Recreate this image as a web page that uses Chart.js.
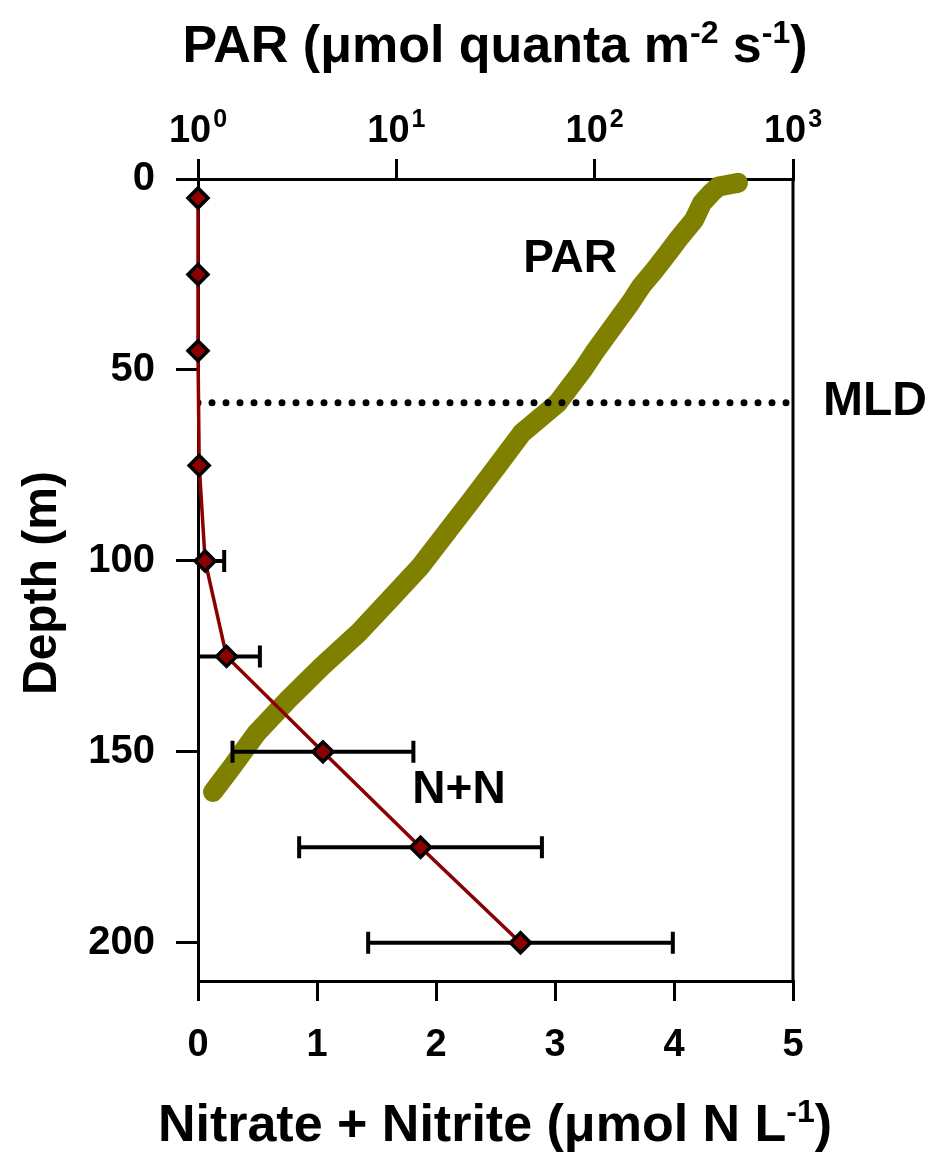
<!DOCTYPE html>
<html>
<head>
<meta charset="utf-8">
<script src="https://cdn.jsdelivr.net/npm/chart.js@4"></script>
<style>
  html, body { margin: 0; padding: 0; background: #fff; }
</style>
</head>
<body>
<canvas id="wykres" width="935" height="1158"></canvas>
<script>
// Nitrate + nitrite profile (bottom axis), with +/- error
const nnDepth = [5, 25, 45, 75, 100, 125, 150, 175, 200];
const nnValue = [0.0, 0.0, 0.0, 0.01, 0.06, 0.24, 1.05, 1.87, 2.71];
const nnErr = [0, 0, 0, 0, 0.16, 0.28, 0.76, 1.02, 1.28];

// PAR profile (top log axis)
const parDepth = [1.0, 1.5, 2.0, 3.5, 6.3, 10.7, 15.2, 19.4, 23.8, 28.2, 32.5, 36.9, 41.2, 45.6, 50, 54.4, 58.7, 66.5, 75.4, 84, 92.7, 101.5, 110, 119, 127.7, 136.4, 145, 154, 160.5];
const parValue = [528, 470, 420, 390, 348, 317, 269, 234, 201, 171, 151, 131, 114, 99, 87, 75, 65, 43, 32, 24, 17.8, 13.2, 9.3, 6.4, 4.2, 2.84, 1.98, 1.48, 1.19];

// mixed layer depth
const mldDepth = 58.6;

const depthTicks = [0, 50, 100, 150, 200];
const nnTicks = [0, 1, 2, 3, 4, 5];
const parTicks = [1, 10, 100, 1000];
const parTickExp = ['0', '1', '2', '3'];

const FONT = "'Liberation Sans', Arial, sans-serif";

// text with superscripts, parts = [[text, isSup], ...]
function drawRich(ctx, parts, x, y, size, align) {
    const supSize = Math.round(size * 0.62);
    let total = 0;
    parts.forEach(p => {
        ctx.font = 'bold ' + (p[1] ? supSize : size) + 'px ' + FONT;
        total += ctx.measureText(p[0]).width;
    });
    let cx = align === 'center' ? x - total / 2 : x;
    parts.forEach(p => {
        ctx.font = 'bold ' + (p[1] ? supSize : size) + 'px ' + FONT;
        ctx.fillText(p[0], cx, p[1] ? y - size * 0.36 : y);
        cx += ctx.measureText(p[0]).width;
    });
}

const extras = {
    id: 'extras',
    beforeDraw(chart) {
        const ctx = chart.ctx;
        ctx.save();
        ctx.fillStyle = '#fff';
        ctx.fillRect(0, 0, chart.width, chart.height);
        ctx.restore();
    },
    afterDatasetDraw(chart, args) {
        if (args.index !== 2) return;
        // error bars, drawn over PAR and under the N+N line
        const ctx = chart.ctx;
        const xs = chart.scales.x, ys = chart.scales.y;
        const area = chart.chartArea;
        ctx.save();
        ctx.strokeStyle = '#000';
        ctx.lineWidth = 4;
        for (let i = 0; i < nnDepth.length; i++) {
            if (!(nnErr[i] > 0)) continue;
            const py = ys.getPixelForValue(nnDepth[i]);
            const lo = nnValue[i] - nnErr[i], hi = nnValue[i] + nnErr[i];
            const x1 = Math.max(xs.getPixelForValue(lo), area.left);
            const x2 = xs.getPixelForValue(hi);
            ctx.beginPath();
            ctx.moveTo(x1, py);
            ctx.lineTo(x2, py);
            ctx.moveTo(x2, py - 11);
            ctx.lineTo(x2, py + 11);
            if (lo >= 0) {
                ctx.moveTo(x1, py - 11);
                ctx.lineTo(x1, py + 11);
            }
            ctx.stroke();
        }
        ctx.restore();
    },
    afterDraw(chart) {
        const ctx = chart.ctx;
        const area = chart.chartArea;
        const top = chart.scales.x2;
        ctx.save();
        // right frame line
        ctx.strokeStyle = '#000';
        ctx.lineWidth = 3;
        ctx.beginPath();
        ctx.moveTo(area.right, area.top);
        ctx.lineTo(area.right, area.bottom);
        ctx.stroke();

        ctx.fillStyle = '#000';
        ctx.textBaseline = 'alphabetic';
        ctx.textAlign = 'left';

        // top tick labels 10^n
        parTicks.forEach((v, i) => {
            const px = top.getPixelForValue(v);
            ctx.font = 'bold 38px ' + FONT;
            const w1 = ctx.measureText('10').width;
            ctx.font = 'bold 25px ' + FONT;
            const w2 = ctx.measureText(parTickExp[i]).width;
            const sx = px - (w1 + w2 + 2) / 2;
            ctx.font = 'bold 38px ' + FONT;
            ctx.fillText('10', sx, 142);
            ctx.font = 'bold 25px ' + FONT;
            ctx.fillText(parTickExp[i], sx + w1 + 2, 127);
        });

        // axis titles
        drawRich(ctx, [['PAR (μmol quanta m', false], ['-2', true], [' s', false], ['-1', true], [')', false]], 495, 62, 52, 'center');
        drawRich(ctx, [['Nitrate + Nitrite (μmol N L', false], ['-1', true], [')', false]], 495, 1141, 52, 'center');

        ctx.save();
        ctx.translate(56, 583);
        ctx.rotate(-Math.PI / 2);
        ctx.textAlign = 'center';
        ctx.font = 'bold 48px ' + FONT;
        ctx.fillText('Depth (m)', 0, 0);
        ctx.restore();

        // in-plot labels
        ctx.textAlign = 'center';
        ctx.textBaseline = 'middle';
        ctx.font = 'bold 46px ' + FONT;
        ctx.fillText('PAR', 570, 259);
        ctx.fillText('N+N', 459, 790);
        ctx.font = 'bold 48px ' + FONT;
        ctx.fillText('MLD', 875, 402);
        ctx.restore();
    }
};

document.addEventListener("DOMContentLoaded", function() {
    const ctx = document.getElementById('wykres').getContext('2d');
    new Chart(ctx, {
        type: 'scatter',
        data: {
            datasets: [{
                label: 'N+N',
                data: nnDepth.map((d, i) => ({ x: nnValue[i], y: d })),
                xAxisID: 'x',
                yAxisID: 'y',
                showLine: true,
                borderColor: '#8b0000',
                borderWidth: 3.5,
                pointStyle: 'rectRot',
                pointRadius: 10,
                pointBorderWidth: 3.5,
                pointBackgroundColor: '#8b0000',
                pointBorderColor: '#000',
                clip: false
            }, {
                label: 'MLD',
                data: [{ x: 0, y: mldDepth }, { x: 5, y: mldDepth }],
                xAxisID: 'x',
                yAxisID: 'y',
                showLine: true,
                borderColor: '#000',
                borderWidth: 7,
                borderDash: [0, 14],
                borderCapStyle: 'round',
                pointRadius: 0
            }, {
                label: 'PAR',
                data: parDepth.map((d, i) => ({ x: parValue[i], y: d })),
                xAxisID: 'x2',
                yAxisID: 'y',
                showLine: true,
                borderColor: '#808000',
                borderWidth: 20,
                borderCapStyle: 'round',
                borderJoinStyle: 'round',
                pointRadius: 0,
                clip: false
            }]
        },
        options: {
            responsive: false,
            animation: false,
            layout: { padding: { right: 142 } },
            plugins: {
                legend: { display: false },
                tooltip: { enabled: false }
            },
            scales: {
                x: {
                    type: 'linear',
                    position: 'bottom',
                    min: 0,
                    max: 5,
                    afterBuildTicks: s => { s.ticks = nnTicks.map(v => ({ value: v })); },
                    afterFit: s => { s.height = 177; },
                    border: { color: '#000', width: 3 },
                    grid: { drawOnChartArea: false, tickLength: 20, color: '#000', lineWidth: 3 },
                    ticks: { color: '#000', padding: 22, font: { family: FONT, size: 38, weight: 'bold' } }
                },
                x2: {
                    type: 'logarithmic',
                    position: 'top',
                    min: 1,
                    max: 1000,
                    afterBuildTicks: s => { s.ticks = parTicks.map(v => ({ value: v })); },
                    afterFit: s => { s.height = 179; },
                    border: { color: '#000', width: 3 },
                    grid: { drawOnChartArea: false, tickLength: 20, color: '#000', lineWidth: 3 },
                    ticks: { display: false }
                },
                y: {
                    type: 'linear',
                    position: 'left',
                    reverse: true,
                    min: 0,
                    max: 210,
                    afterBuildTicks: s => { s.ticks = depthTicks.map(v => ({ value: v })); },
                    afterFit: s => { s.width = 198; },
                    border: { color: '#000', width: 3 },
                    grid: { drawOnChartArea: false, tickLength: 22, color: '#000', lineWidth: 3 },
                    ticks: { color: '#000', padding: 21, font: { family: FONT, size: 40, weight: 'bold' } }
                }
            }
        },
        plugins: [extras]
    });
});
</script>
</body>
</html>
